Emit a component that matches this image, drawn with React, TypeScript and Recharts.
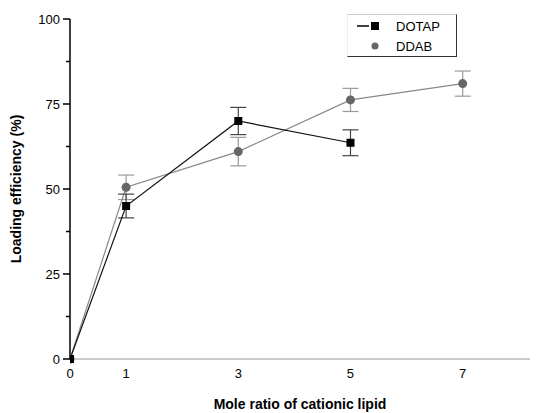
import React from 'react';
import { LineChart, Line, XAxis, YAxis, ErrorBar } from 'recharts';

// mole ratio (x), loading efficiency (%) and error per series
const dotapX = [0, 1, 3, 5];
const dotapY = [0, 45, 70, 63.6];
const dotapErr = [0, 3.5, 4, 3.8];

const ddabX = [0, 1, 3, 5, 7];
const ddabY = [0, 50.5, 61, 76.2, 81];
const ddabErr = [0, 3.6, 4.2, 3.4, 3.7];

const xTicks = [0, 1, 3, 5, 7];
const yTicks = [0, 12.5, 25, 37.5, 50, 62.5, 75, 87.5, 100];

const dotapData = dotapX.map((x, i) => ({ x, y: dotapY[i], err: dotapErr[i] }));
const ddabData = ddabX.map((x, i) => ({ x, y: ddabY[i], err: ddabErr[i] }));

const FONT = '"Liberation Sans", Arial, sans-serif';

const SquareDot = (props: any) => {
  const { cx, cy } = props;
  if (cx == null || cy == null) return null;
  return <rect x={cx - 4} y={cy - 4} width={8} height={8} fill="#000" />;
};

const CircleDot = (props: any) => {
  const { cx, cy } = props;
  if (cx == null || cy == null) return null;
  return <circle cx={cx} cy={cy} r={4.5} fill="#666" />;
};

const YTick = (props: any) => {
  const { x, y, payload } = props;
  const major = payload.value % 25 === 0;
  return (
    <g>
      <line x1={x + 8} x2={major ? x + 1 : x + 4} y1={y} y2={y} stroke="#000" strokeWidth={1.5} />
      {major && (
        <text x={x - 2} y={y + 5} textAnchor="end" fontSize={13} fontFamily={FONT} fill="#000">
          {payload.value}
        </text>
      )}
    </g>
  );
};

const LegendBox = () => (
  <div
    style={{
      position: 'absolute',
      left: 347,
      top: 14,
      width: 108,
      height: 41,
      borderTop: '1px solid #ccc',
      borderLeft: '1px solid #eee',
      borderRight: '1.5px solid #333',
      borderBottom: '1.5px solid #333',
      fontFamily: FONT,
      fontSize: 13,
      background: '#fff',
    }}
  >
    <div style={{ display: 'flex', alignItems: 'center', height: 20, marginTop: 1 }}>
      <svg width={40} height={12}>
        <line x1={9} x2={21} y1={6} y2={6} stroke="#000" strokeWidth={1.5} />
        <rect x={23} y={2} width={8} height={8} fill="#000" />
      </svg>
      <span style={{ marginLeft: 8 }}>DOTAP</span>
    </div>
    <div style={{ display: 'flex', alignItems: 'center', height: 20 }}>
      <svg width={40} height={12}>
        <circle cx={27} cy={6} r={3.5} fill="#666" />
      </svg>
      <span style={{ marginLeft: 8 }}>DDAB</span>
    </div>
  </div>
);

export default function App() {
  return (
    <div style={{ position: 'absolute', left: 0, top: 0, width: 536, height: 413, background: '#fff' }}>
      <LineChart width={536} height={413} margin={{ top: 19, right: 6, bottom: 0, left: 0 }}>
        <XAxis
          dataKey="x"
          type="number"
          domain={[0, 8.2]}
          ticks={xTicks}
          allowDataOverflow
          stroke="#999"
          tickLine={false}
          height={54}
          tick={{ fontSize: 13, fontFamily: FONT, fill: '#000', dy: 2 }}
          label={{
            value: 'Mole ratio of cationic lipid',
            position: 'insideBottom',
            offset: 4,
            style: { fontSize: 14, fontWeight: 'bold', fontFamily: FONT, fill: '#000' },
          }}
        />
        <YAxis
          type="number"
          domain={[0, 100]}
          ticks={yTicks}
          width={70}
          stroke="#000"
          strokeWidth={1.5}
          tickLine={false}
          tick={<YTick />}
          label={{
            value: 'Loading efficiency (%)',
            angle: -90,
            position: 'insideLeft',
            offset: 16,
            style: { textAnchor: 'middle', fontSize: 14, fontWeight: 'bold', fontFamily: FONT, fill: '#000' },
          }}
        />
        <Line
          data={ddabData}
          dataKey="y"
          name="DDAB"
          stroke="#888"
          strokeWidth={1.2}
          dot={<CircleDot />}
          activeDot={false}
          isAnimationActive={false}
        >
          <ErrorBar dataKey="err" width={8} stroke="#999" strokeWidth={1.2} />
        </Line>
        <Line
          data={dotapData}
          dataKey="y"
          name="DOTAP"
          stroke="#111"
          strokeWidth={1.2}
          dot={<SquareDot />}
          activeDot={false}
          isAnimationActive={false}
        >
          <ErrorBar dataKey="err" width={8} stroke="#444" strokeWidth={1.2} />
        </Line>
      </LineChart>
      <LegendBox />
    </div>
  );
}
